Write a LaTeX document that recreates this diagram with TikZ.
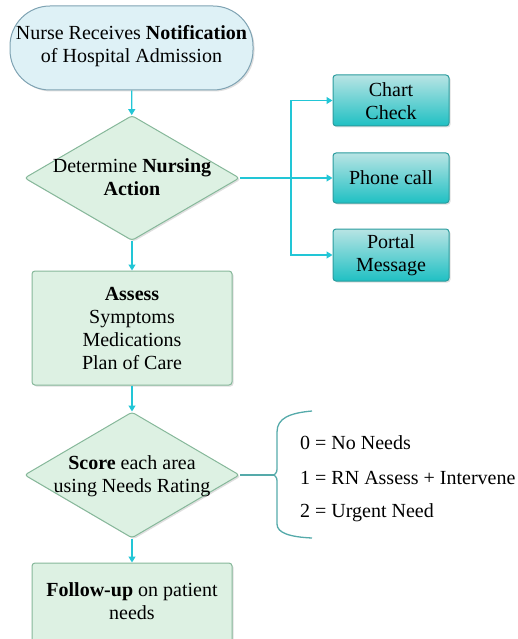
\documentclass[tikz,border=0pt]{standalone}
\usepackage{fontspec}
\setmainfont{Liberation Serif}
\usetikzlibrary{shapes.geometric,arrows.meta,shadows}
\definecolor{arrowc}{HTML}{22C6D6}
\definecolor{greenfill}{HTML}{DDF1E3}
\definecolor{greendraw}{HTML}{86B89A}
\definecolor{bluefill}{HTML}{DEF1F6}
\definecolor{bluedraw}{HTML}{7FA3B3}
\definecolor{tealtop}{HTML}{B8E4E4}
\definecolor{tealbot}{HTML}{1FC0C3}
\definecolor{tealdraw}{HTML}{2B9C9E}
\definecolor{bracec}{HTML}{55AAAA}
\tikzset{
  x=1pt, y=-1pt,
  txt/.style={font=\fontsize{20}{23}\selectfont, align=center, inner sep=0pt},
  shad/.style={drop shadow={opacity=0.25, shadow xshift=1.5pt, shadow yshift=-1.5pt}},
  startbox/.style={draw=bluedraw, line width=1pt, fill=bluefill, rounded corners=40pt, shad},
  greenbox/.style={draw=greendraw, line width=1pt, fill=greenfill, rounded corners=3pt, shad},
  decision/.style={diamond, draw=greendraw, line width=1pt, fill=greenfill, rounded corners=3pt, inner sep=0pt, shad},
  tealbox/.style={draw=tealdraw, line width=1pt, top color=tealtop, bottom color=tealbot, rounded corners=3pt, shad, minimum width=116pt},
  arr/.style={draw=arrowc, line width=1.2pt, -{Triangle[length=6pt,width=7pt]}},
  link/.style={draw=arrowc, line width=1.2pt},
}
\begin{document}
\begin{tikzpicture}
\useasboundingbox (0,0) rectangle (517,639);
% start
\node[startbox, minimum width=243pt, minimum height=84pt] (start) at (131.5,48) {};
\node[txt] (starttxt) at (131.5,46) {Nurse Receives \textbf{Notification}\\of Hospital Admission};
% decision 1
\node[decision, minimum width=215pt, minimum height=125pt] (d1) at (132,178) {};
\node[txt] (d1txt) at (132,177.5) {Determine \textbf{Nursing}\\\textbf{Action}};
% teal boxes
\node[tealbox, minimum height=51pt] (chart) at (391,100.5) {};
\node[txt] (charttxt) at (391,101) {Chart\\Check};
\node[tealbox, minimum height=50pt] (phone) at (391,178) {};
\node[txt] (phonetxt) at (391,178) {Phone call};
\node[tealbox, minimum height=52pt] (portal) at (391,255) {};
\node[txt] (portaltxt) at (391,255) {Portal\\Message};
% assess
\node[greenbox, minimum width=200pt, minimum height=114pt] (assess) at (132,328) {};
\node[txt] (assesstxt) at (132,328) {\textbf{Assess}\\Symptoms\\Medications\\Plan of Care};
% decision 2
\node[decision, minimum width=215pt, minimum height=126pt] (d2) at (132,475) {};
\node[txt] (d2txt) at (132,476) {\textbf{Score} each area\\using Needs Rating};
% follow-up
\node[greenbox, minimum width=200pt, minimum height=80pt] (follow) at (132,603) {};
\node[txt] (followtxt) at (132,601) {\textbf{Follow-up} on patient\\needs};
% legend
\node[txt, anchor=west] (l0) at (300,443) {0 = No Needs};
\node[txt, anchor=west] (l1) at (300,478) {1 = RN Assess + Intervene};
\node[txt, anchor=west] (l2) at (300,513) {2 = Urgent Need};
% connectors
\draw[arr] (start) -- (d1);
\draw[arr] (d1) -- (assess);
\draw[arr] (assess) -- (d2);
\draw[arr] (d2) -- (follow);
\coordinate (split) at (291,178);
\draw[link] (d1.east) -- (split);
\draw[arr] (split) |- (chart.west);
\draw[arr] (split) -- (phone.west);
\draw[arr] (split) |- (portal.west);
% brace
\coordinate (cusp) at (274,475);
\draw[bracec, line width=1.2pt] (d2.east) -- (cusp);
\draw[bracec, line width=1.3pt] (312,411) .. controls (290,413) and (277,418) .. (277,432) -- (277,466) .. controls (277,472) .. (cusp) .. controls (277,478) .. (277,484) -- (277,524) .. controls (277,533) and (290,537) .. (312,538);
\end{tikzpicture}
\end{document}
